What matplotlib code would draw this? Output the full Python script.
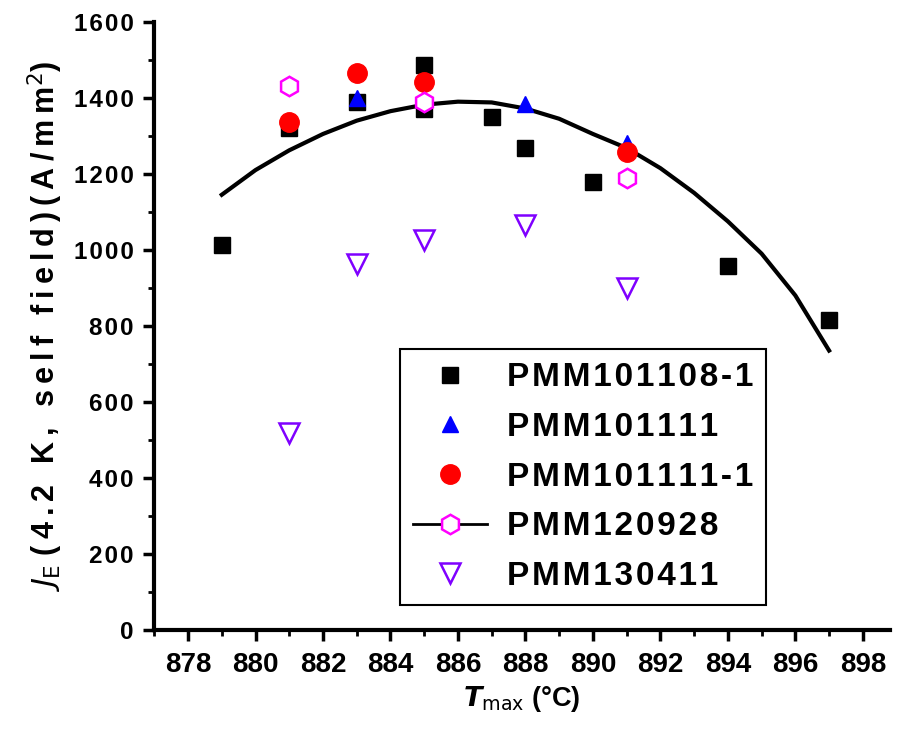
import matplotlib.pyplot as plt
from matplotlib.lines import Line2D
from matplotlib.ticker import MultipleLocator, FuncFormatter

plt.rcParams['font.family'] = ['Liberation Sans', 'DejaVu Sans']

# data
t_101108 = [879, 881, 883, 885, 885, 887, 888, 890, 894, 897]
je_101108 = [1013, 1320, 1390, 1487, 1372, 1350, 1268, 1179, 958, 816]

t_101111 = [883, 888, 891]
je_101111 = [1400, 1385, 1282]

t_101111_1 = [881, 883, 885, 891]
je_101111_1 = [1337, 1466, 1442, 1258]

t_120928 = [881, 885, 891]
je_120928 = [1432, 1390, 1189]

t_130411 = [881, 883, 885, 888, 891]
je_130411 = [518, 962, 1026, 1066, 900]

# fit curve, read point by point
t_fit = [879, 880, 881, 882, 883, 884, 885, 886, 887, 888, 889, 890, 891, 892, 893, 894, 895, 896, 897]
je_fit = [1145, 1210, 1262, 1305, 1340, 1365, 1382, 1390, 1388, 1372, 1345, 1305, 1268, 1215, 1150, 1075, 990, 880, 735]

labels = ["PMM101108-1", "PMM101111", "PMM101111-1", "PMM120928", "PMM130411"]

# the original text is letter-spaced
THIN = '\u2009'
HAIR = '\u200a'


def spaced(s, sp=THIN):
    return sp.join(s)


fig = plt.figure(figsize=(8.97, 7.29), dpi=100)
ax = fig.add_axes([0.172, 0.136, 0.820, 0.834])

ax.plot(t_fit, je_fit, color='black', lw=3, zorder=2)
ax.plot(t_101108, je_101108, 's', color='black', ms=11, zorder=3)
ax.plot(t_101111, je_101111, '^', color='blue', ms=12, zorder=4)
ax.plot(t_101111_1, je_101111_1, 'o', color='red', ms=14, zorder=5)
ax.plot(t_120928, je_120928, 'h', mfc='white', mec='magenta', mew=1.8, ms=14, zorder=6)
ax.plot(t_130411, je_130411, 'v', mfc='none', mec='#7f00ff', mew=1.8, ms=15, zorder=6)

ax.set_xlim(877, 898.8)
ax.set_ylim(0, 1600)
ax.xaxis.set_major_locator(MultipleLocator(2))
ax.xaxis.set_minor_locator(MultipleLocator(1))
ax.yaxis.set_major_locator(MultipleLocator(200))
ax.yaxis.set_minor_locator(MultipleLocator(100))
ax.yaxis.set_major_formatter(FuncFormatter(lambda v, p: spaced(f'{v:.0f}', HAIR)))

for s in ['top', 'right']:
    ax.spines[s].set_visible(False)
for s in ['left', 'bottom']:
    ax.spines[s].set_linewidth(3)

ax.tick_params(which='major', direction='out', length=8, width=2.5)
ax.tick_params(which='minor', direction='out', length=4, width=2)
ax.tick_params(axis='y', labelsize=17.5, pad=7)
ax.tick_params(axis='x', labelsize=20, pad=8)
for lab in ax.get_yticklabels():
    lab.set_fontweight('bold')
for lab in ax.get_xticklabels():
    lab.set_fontweight('bold')

ax.set_xlabel(r'$\boldsymbol{T}_{\mathrm{max}}$ (°C)', fontsize=19.5, fontweight='bold', labelpad=4)
ax.set_ylabel(r'$J_{\mathrm{E}}$' + ' ' + spaced('(4.2 K, self field)(A/mm') + r'$^2$)',
              fontsize=22, fontweight='bold', labelpad=6)

handles = [
    Line2D([], [], ls='', marker='s', color='black', ms=11),
    Line2D([], [], ls='', marker='^', color='blue', ms=12),
    Line2D([], [], ls='', marker='o', color='red', ms=14),
    Line2D([], [], ls='-', color='black', lw=2, marker='h', mfc='white', mec='magenta', mew=1.8, ms=14),
    Line2D([], [], ls='', marker='v', mfc='none', mec='#7f00ff', mew=1.8, ms=15),
]
leg = ax.legend(handles, [spaced(l, HAIR) for l in labels], loc='upper left', bbox_to_anchor=(0.334, 0.462),
                borderaxespad=0, prop={'size': 24, 'weight': 'bold'}, fancybox=False, framealpha=1,
                edgecolor='black', labelspacing=0.56, handlelength=2.2, handletextpad=0.6,
                borderpad=0.4)
leg.get_frame().set_linewidth(1.5)

fig.savefig('out.png', dpi=100)
